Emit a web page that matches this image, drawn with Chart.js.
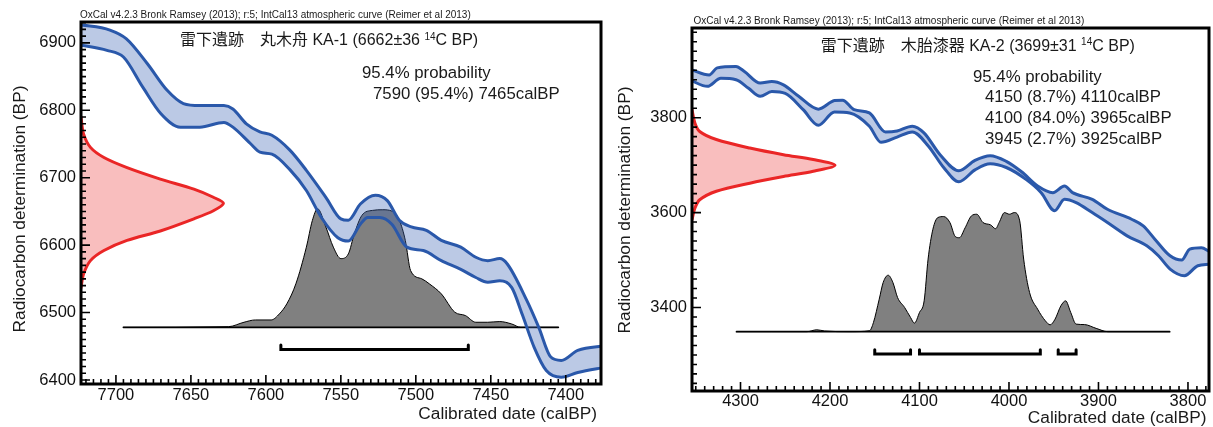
<!DOCTYPE html>
<html>
<head>
<meta charset="utf-8">
<script src="https://cdn.jsdelivr.net/npm/chart.js@4.4.1/dist/chart.umd.min.js"></script>
<style>
  body { margin: 0; background: #fff; }
  #wrap { position: relative; width: 1213px; height: 427px; }
  canvas { position: absolute; top: 0; }
  #ka1 { left: 0; }
  #ka2 { left: 610px; }
</style>
</head>
<body>
<div id="wrap">
  <canvas id="ka1" width="606" height="427"></canvas>
  <canvas id="ka2" width="603" height="427"></canvas>
</div>
<script>
// ---- KA-1 丸木舟 (6662±36 14C BP) ----
const ka1XTicks = [7700, 7650, 7600, 7550, 7500, 7450, 7400];
const ka1YTicks = [6400, 6500, 6600, 6700, 6800, 6900];

// calibration curve, upper / lower edge (calBP, BP)
const ka1UpperCal = [7373, 7392, 7403, 7410, 7418, 7426, 7439, 7444, 7452, 7460, 7470, 7483, 7493, 7503, 7511, 7519, 7527, 7537, 7545, 7550, 7560, 7573, 7584, 7596, 7604, 7613, 7622, 7628, 7644, 7655, 7666, 7679, 7693, 7704, 7724];
const ka1UpperBP  = [6451, 6444, 6429, 6434, 6478, 6518, 6572, 6580, 6577, 6582, 6597, 6607, 6622, 6627, 6637, 6666, 6674, 6661, 6637, 6639, 6671, 6711, 6741, 6763, 6768, 6780, 6802, 6807, 6807, 6810, 6830, 6869, 6906, 6919, 6927];
const ka1LowerCal = [7373, 7392, 7403, 7413, 7421, 7429, 7436, 7444, 7452, 7460, 7470, 7483, 7495, 7506, 7516, 7524, 7532, 7537, 7545, 7552, 7563, 7573, 7584, 7596, 7604, 7610, 7622, 7628, 7644, 7657, 7670, 7682, 7695, 7706, 7724];
const ka1LowerBP  = [6419, 6411, 6404, 6414, 6448, 6497, 6537, 6547, 6545, 6552, 6564, 6577, 6592, 6597, 6631, 6641, 6641, 6631, 6606, 6611, 6641, 6681, 6712, 6735, 6738, 6750, 6775, 6782, 6775, 6775, 6795, 6834, 6879, 6889, 6897];

// radiocarbon determination (red, on the y axis)
const ka1GaussBP  = [6790, 6765, 6745, 6730, 6715, 6698, 6683, 6671, 6662, 6651, 6639, 6621, 6607, 6592, 6577, 6557, 6537];
const ka1GaussCal = [7723.3, 7721.6, 7717, 7708, 7692.6, 7670.4, 7648, 7635, 7628.3, 7635, 7648, 7670.4, 7692.6, 7708, 7717, 7721.6, 7723.3];

// calibrated distribution (grey)
const ka1ProbCal = [7405, 7430, 7436, 7444, 7452, 7460, 7467, 7474, 7483, 7491, 7496, 7503.5, 7507, 7511, 7516, 7522, 7529, 7536, 7541, 7545, 7550, 7555, 7560, 7565.5, 7569, 7573, 7580, 7586, 7591, 7596.5, 7607, 7614.6, 7625, 7695];
const ka1ProbBP  = [6478, 6478, 6483, 6486.6, 6485.6, 6485.6, 6495.6, 6500.5, 6527.7, 6542.6, 6550, 6562.4, 6607, 6637, 6650.5, 6652.5, 6651.5, 6644, 6617, 6587, 6580, 6597, 6627, 6654, 6636.6, 6597, 6542.6, 6513, 6498, 6489, 6489, 6485.6, 6479, 6478];
const ka1Baseline = [7695, 7405];
const ka1BaseBP = 6478;

// 95.4% ranges
const ka1RangeFrom = [7590];
const ka1RangeTo = [7465];
const ka1RangeBP = 6445;

const ka1Title = ['雷下遺跡　丸木舟 KA-1 (6662±36 ', '14', 'C BP)'];
const ka1Lines = ['7590 (95.4%) 7465calBP'];

// ---- KA-2 木胎漆器 (3699±31 14C BP) ----
const ka2XTicks = [4300, 4200, 4100, 4000, 3900, 3800];
const ka2YTicks = [3400, 3600, 3800];

const ka2UpperCal = [3776, 3785, 3798, 3807, 3820, 3837, 3850, 3863, 3890, 3907, 3929, 3938, 3951, 3968, 3986, 4003, 4021, 4038, 4056, 4077, 4095, 4108, 4125, 4138, 4156, 4173, 4186, 4195, 4213, 4235, 4252, 4265, 4278, 4296, 4305, 4326, 4335, 4355];
const ka2UpperBP  = [3518, 3526, 3523, 3500, 3509, 3544, 3572, 3586, 3607, 3628, 3642, 3656, 3642, 3656, 3686, 3708, 3720, 3710, 3688, 3722, 3768, 3782, 3772, 3770, 3810, 3817, 3837, 3836, 3818, 3845, 3869, 3876, 3873, 3898, 3908, 3905, 3890, 3901];
const ka2LowerCal = [3776, 3789, 3804, 3820, 3833, 3846, 3868, 3890, 3907, 3925, 3938, 3949, 3964, 3981, 4003, 4021, 4038, 4056, 4073, 4090, 4108, 4125, 4143, 4156, 4178, 4195, 4213, 4230, 4250, 4265, 4278, 4291, 4305, 4322, 4337, 4355];
const ka2LowerBP  = [3491, 3488, 3467, 3481, 3509, 3530, 3551, 3579, 3600, 3621, 3628, 3604, 3642, 3670, 3695, 3703, 3690, 3665, 3695, 3740, 3770, 3759, 3748, 3782, 3810, 3812, 3784, 3817, 3851, 3855, 3845, 3862, 3880, 3883, 3866, 3878];

const ka2GaussBP  = [3817, 3789, 3771, 3754, 3736, 3722, 3712, 3700, 3687, 3676, 3662, 3645, 3627, 3609, 3585];
const ka2GaussCal = [4354.2, 4351, 4345.6, 4327, 4289.6, 4252, 4218.7, 4194.4, 4218.7, 4252, 4289.6, 4327, 4345.6, 4351, 4354.2];

const ka2ProbCal = [3820.5, 3889.5, 3902.6, 3915.7, 3925, 3931, 3936.7, 3942, 3948.5, 3954, 3959.4, 3968, 3977, 3983.6, 3988, 3994, 3999.6, 4005, 4011, 4015, 4020.5, 4029, 4036, 4042, 4049, 4055.5, 4060, 4066, 4073, 4079.5, 4085, 4090.4, 4094.8, 4100, 4105.7, 4110, 4116.6, 4124.5, 4129.7, 4135, 4140.6, 4145, 4151.5, 4155.9, 4177.7, 4206, 4214.8, 4225.8, 4304.4];
const ka2ProbBP  = [3349, 3349, 3356, 3364, 3365, 3389.5, 3414, 3403.5, 3375.4, 3363.5, 3372, 3396.5, 3431.6, 3502, 3582.5, 3600, 3596.5, 3600, 3579, 3566, 3574, 3579, 3596.5, 3593, 3568, 3547, 3549.5, 3579, 3591.6, 3589.5, 3565, 3502, 3414, 3389.5, 3367, 3379, 3400, 3421, 3452.6, 3468, 3452.6, 3417.5, 3368, 3351, 3349, 3350.5, 3353, 3349, 3349];
const ka2Baseline = [4304.4, 3820.5];
const ka2BaseBP = 3349;

const ka2RangeFrom = [4150, 4100, 3945];
const ka2RangeTo = [4110, 3965, 3925];
const ka2RangeBP = 3302;

const ka2Title = ['雷下遺跡　木胎漆器 KA-2 (3699±31 ', '14', 'C BP)'];
const ka2Lines = ['4150 (8.7%) 4110calBP', '4100 (84.0%) 3965calBP', '3945 (2.7%) 3925calBP'];

const credit = 'OxCal v4.2.3 Bronk Ramsey (2013); r:5; IntCal13 atmospheric curve (Reimer et al 2013)';

const FONT = '"Liberation Sans", Arial, "Noto Sans CJK JP", sans-serif';
Chart.defaults.font.family = FONT;
Chart.defaults.color = '#111';

const BLUE = 'rgb(42, 88, 170)';
const BAND = 'rgba(60, 100, 180, 0.35)';
const RED = 'rgb(234, 38, 38)';
const PINK = 'rgba(238, 70, 70, 0.35)';

const pts = (xs, ys) => xs.map((x, i) => ({ x: x, y: ys[i] }));

// frame, inward ticks and the texts OxCal writes on the plot
function oxcalPlugin(c) {
  return {
    id: 'oxcal',
    afterDraw(chart) {
      const { ctx, chartArea: a, scales } = chart;
      const xs = scales.x, ys = scales.y;
      ctx.save();
      ctx.strokeStyle = '#000';
      ctx.lineWidth = 1.6;
      ctx.beginPath();
      for (let v = Math.ceil(xs.min / c.xMinor) * c.xMinor; v <= xs.max; v += c.xMinor) {
        const px = xs.getPixelForValue(v);
        ctx.moveTo(px, a.bottom);
        ctx.lineTo(px, a.bottom - (v % c.xMajor === 0 ? 9 : 5));
      }
      for (let v = Math.ceil(ys.min / c.yMinor) * c.yMinor; v <= ys.max; v += c.yMinor) {
        const py = ys.getPixelForValue(v);
        ctx.moveTo(a.left, py);
        ctx.lineTo(a.left + (v % c.yMajor === 0 ? 9 : 5), py);
      }
      ctx.stroke();
      ctx.lineWidth = 3;
      ctx.strokeRect(a.left, a.top, a.right - a.left, a.bottom - a.top);

      const t = c.text;
      ctx.fillStyle = '#1a1a1a';
      ctx.textBaseline = 'middle';
      ctx.textAlign = 'left';
      ctx.font = '10px ' + FONT;
      ctx.fillText(credit, t.credit[0], t.credit[1]);

      // title with superscript 14
      let x = t.title[0];
      ctx.font = '16px ' + FONT;
      ctx.fillText(c.title[0], x, t.title[1]);
      x += ctx.measureText(c.title[0]).width;
      ctx.font = '10px ' + FONT;
      ctx.fillText(c.title[1], x, t.title[1] - 4);
      x += ctx.measureText(c.title[1]).width;
      ctx.font = '16px ' + FONT;
      ctx.fillText(c.title[2], x, t.title[1]);

      ctx.font = '16.8px ' + FONT;
      ctx.fillText('95.4% probability', t.head[0], t.head[1]);
      c.lines.forEach((s, i) => ctx.fillText(s, t.lineX, t.lineY[i]));

      ctx.font = '17.3px ' + FONT;
      ctx.textAlign = 'right';
      ctx.fillText('Calibrated date (calBP)', t.xTitle[0], t.xTitle[1]);
      ctx.translate(t.yTitle[0], t.yTitle[1]);
      ctx.rotate(-Math.PI / 2);
      ctx.textAlign = 'center';
      ctx.fillText('Radiocarbon determination (BP)', 0, 0);
      ctx.restore();
    }
  };
}

function makeChart(c) {
  const brackets = c.rangeFrom.map((f, i) => ({
    data: [
      { x: f, y: c.rangeBP + c.bracketTick }, { x: f, y: c.rangeBP },
      { x: c.rangeTo[i], y: c.rangeBP }, { x: c.rangeTo[i], y: c.rangeBP + c.bracketTick }
    ],
    borderColor: '#000', borderWidth: 3, borderJoinStyle: 'miter', fill: false
  }));

  return new Chart(document.getElementById(c.canvas), {
    type: 'line',
    data: {
      datasets: [
        { data: pts(c.upperCal, c.upperBP), borderColor: BLUE, borderWidth: 3, fill: false, cubicInterpolationMode: 'monotone' },
        { data: pts(c.lowerCal, c.lowerBP), borderColor: BLUE, borderWidth: 3, fill: '-1', backgroundColor: BAND, cubicInterpolationMode: 'monotone' },
        { data: pts(c.gaussCal, c.gaussBP), indexAxis: 'y', borderColor: RED, borderWidth: 3, tension: 0.3,
          fill: { value: c.xMax }, backgroundColor: PINK },
        ...brackets,
        { data: pts(c.baseline, [c.baseBP, c.baseBP]), borderColor: '#000', borderWidth: 1.8, fill: false },
        { data: pts(c.probCal, c.probBP), borderColor: '#000', borderWidth: 1, cubicInterpolationMode: 'monotone',
          fill: { value: c.baseBP }, backgroundColor: 'rgb(128, 128, 128)' }
      ]
    },
    options: {
      responsive: false,
      animation: false,
      layout: { padding: { left: 0, right: c.padRight, top: c.padTop, bottom: 0 } },
      elements: { point: { radius: 0 }, line: { borderCapStyle: 'round', borderJoinStyle: 'round' } },
      plugins: { legend: { display: false }, tooltip: { enabled: false } },
      scales: {
        x: {
          type: 'linear', reverse: true, min: c.xMin, max: c.xMax,
          afterBuildTicks: s => { s.ticks = c.xTicks.map(v => ({ value: v })); },
          afterFit: s => { s.height = c.xAxisH; },
          grid: { display: false, drawTicks: false },
          border: { display: false },
          ticks: { padding: c.xPad, autoSkip: false, maxRotation: 0, font: { size: 16.5 }, color: '#111', callback: v => String(v) }
        },
        y: {
          type: 'linear', min: c.yMin, max: c.yMax,
          afterBuildTicks: s => { s.ticks = c.yTicks.map(v => ({ value: v })); },
          afterFit: s => { s.width = c.yAxisW; },
          grid: { display: false, drawTicks: false },
          border: { display: false },
          ticks: { padding: 5, autoSkip: false, font: { size: 16.5 }, color: '#111', callback: v => String(v) }
        }
      }
    },
    plugins: [oxcalPlugin(c)]
  });
}

makeChart({
  canvas: 'ka1',
  xMin: 7376.5, xMax: 7723.3, yMin: 6394, yMax: 6931,
  xTicks: ka1XTicks, yTicks: ka1YTicks,
  xMinor: 5, xMajor: 50, yMinor: 10, yMajor: 100,
  padRight: 5, padTop: 22, yAxisW: 81, xAxisH: 43, xPad: 2, bracketTick: 7,
  upperCal: ka1UpperCal, upperBP: ka1UpperBP, lowerCal: ka1LowerCal, lowerBP: ka1LowerBP,
  gaussCal: ka1GaussCal, gaussBP: ka1GaussBP,
  probCal: ka1ProbCal, probBP: ka1ProbBP, baseline: ka1Baseline, baseBP: ka1BaseBP,
  rangeFrom: ka1RangeFrom, rangeTo: ka1RangeTo, rangeBP: ka1RangeBP,
  title: ka1Title, lines: ka1Lines,
  text: { credit: [80, 15.5], title: [180, 41], head: [362, 73], lineX: 373, lineY: [94],
          xTitle: [597, 414], yTitle: [20, 209] }
});

makeChart({
  canvas: 'ka2',
  xMin: 3776.5, xMax: 4354.2, yMin: 3224, yMax: 3989,
  xTicks: ka2XTicks, yTicks: ka2YTicks,
  xMinor: 10, xMajor: 100, yMinor: 20, yMajor: 200,
  padRight: 4, padTop: 28, yAxisW: 82, xAxisH: 36, xPad: 1, bracketTick: 9,
  upperCal: ka2UpperCal, upperBP: ka2UpperBP, lowerCal: ka2LowerCal, lowerBP: ka2LowerBP,
  gaussCal: ka2GaussCal, gaussBP: ka2GaussBP,
  probCal: ka2ProbCal, probBP: ka2ProbBP, baseline: ka2Baseline, baseBP: ka2BaseBP,
  rangeFrom: ka2RangeFrom, rangeTo: ka2RangeTo, rangeBP: ka2RangeBP,
  title: ka2Title, lines: ka2Lines,
  text: { credit: [83.5, 21.5], title: [210.7, 46.5], head: [363, 77], lineX: 375, lineY: [97.5, 118.5, 139.5],
          xTitle: [596.5, 418], yTitle: [15, 210] }
});
</script>
</body>
</html>
